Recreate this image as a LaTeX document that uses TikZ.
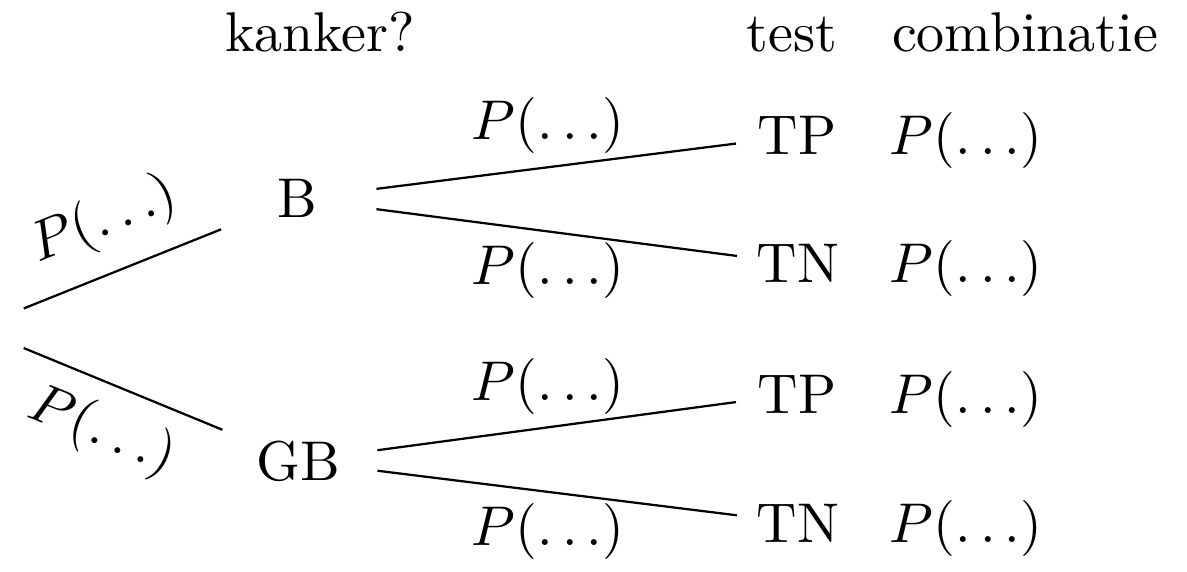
\documentclass[tikz,border=0pt]{standalone}
\begin{document}
\begin{tikzpicture}[x=0.17857pt,y=-0.17857pt,
  txt/.style={anchor=base,inner sep=0pt},
  rlbl/.style={anchor=center,inner sep=0pt},
  branch/.style={line width=0.4pt},
  lvlone/.style={branch,shorten <=9.4pt,shorten >=14.6pt},
  lvltwo/.style={branch,shorten <=14.3pt,shorten >=11pt}]
\useasboundingbox (0,0) rectangle (1187,572);
% headers
\node[txt] (hkanker) at (320,52) {kanker?};
\node[txt] (htest) at (792,52) {test};
\node[txt] (hcomb) at (1025,52) {combinatie};
% tree nodes
\coordinate (root) at (-25,328);
\node[txt] (B) at (297,218) {B};
\node[txt] (GB) at (298,480) {GB};
\node[txt] (TPa) at (797,155) {TP};
\node[txt] (TNa) at (798,283) {TN};
\node[txt] (TPb) at (797,413) {TP};
\node[txt] (TNb) at (798,542) {TN};
% combination column
\node[txt] (ca) at (966,155) {$P(\dots)$};
\node[txt] (cb) at (966,283) {$P(\dots)$};
\node[txt] (cc) at (966,413) {$P(\dots)$};
\node[txt] (cd) at (966,542) {$P(\dots)$};
% edges
\draw[lvlone] (root) -- (B.center);
\draw[lvlone] (root) -- (GB.center);
\draw[lvltwo] (B.center) -- (TPa.center);
\draw[lvltwo] (B.center) -- (TNa.center);
\draw[lvltwo] (GB.center) -- (TPb.center);
\draw[lvltwo] (GB.center) -- (TNb.center);
% edge labels
\node[rlbl,rotate=21.8] (lr1) at (104,221) {$P(\dots)$};
\node[rlbl,rotate=-21.8] (lr2) at (102,432) {$P(\dots)$};
\node[txt] (l1) at (548,140) {$P(\dots)$};
\node[txt] (l2) at (548,285) {$P(\dots)$};
\node[txt] (l3) at (548,400) {$P(\dots)$};
\node[txt] (l4) at (548,545) {$P(\dots)$};
\end{tikzpicture}
\end{document}
